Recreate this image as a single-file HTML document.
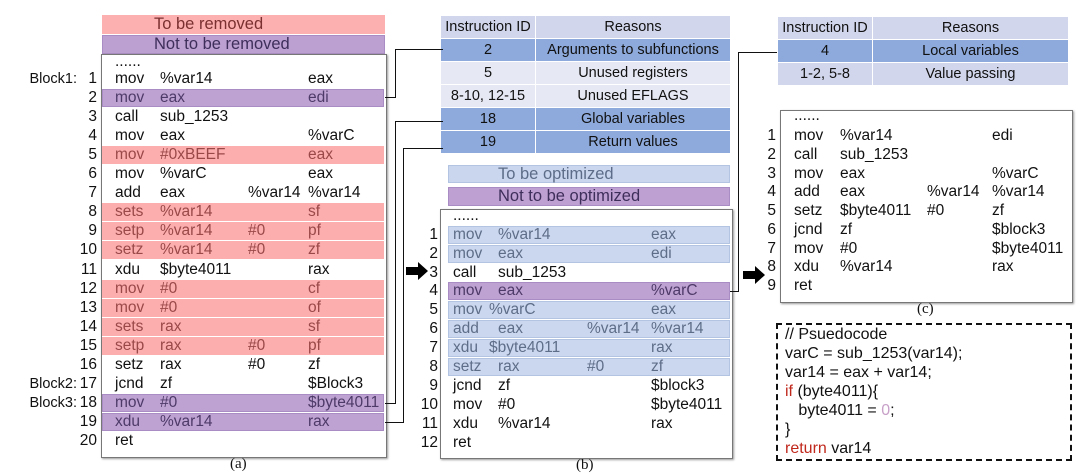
<!DOCTYPE html>
<html><head><meta charset="utf-8"><style>
body{margin:0;width:1090px;height:476px;background:#fff;position:relative;overflow:hidden;font-family:"Liberation Sans",sans-serif;font-size:15.5px;color:#111}
.a{position:absolute}
.r{position:absolute;height:18px;line-height:18px;white-space:nowrap}
.r span{position:absolute;top:0}
.pa{left:102px;width:282px}.pb{left:448px;width:282px}.pc{left:781px;width:290px}
.pa .n{right:287px}.pb .n{right:292px}.pc .n{right:295px}
.n{color:#111!important;text-align:right}
.pa .c1{left:13px}.pa .c2{left:58px}.pa .c3{left:146px}.pa .c4{left:206px}
.pb .c1{left:5px}.pb .c2{left:50px}.pb .c3{left:139px}.pb .c4{left:203px}
.pc .c1{left:13px}.pc .c2{left:59px}.pc .c3{left:146px}.pc .c4{left:211px}
.pk{background:#fcaeae;color:#9a4848}
.pu{background:#bda2d2;color:#4e3a68;box-shadow:inset 0 0 0 1px #a98cc4}
.bl{background:#cbd7ee;color:#5e6d88;box-shadow:inset 0 0 0 1px #b3c4e2}
.box{position:absolute;border:1px solid #777;background:#fff;box-shadow:1px 1px 2px #999}
.ln{position:absolute;background:#111}
table{position:absolute;border-collapse:collapse;font-size:14.5px}
td{text-align:center;padding:0;border:1px solid #fff;height:22px}
.h{background:#d2d6ec}.d{background:#8eaadc}.l{background:#e6e8f3}
.lbl{font-family:"Liberation Serif",serif;font-size:15px;position:absolute}
.lg{font-size:16.5px}
.bk{position:absolute;left:0;width:77px;text-align:right;font-size:14.5px;line-height:18px}
</style></head><body>
<!-- panel a -->
<div class="a lg" style="left:102px;top:15px;width:283px;height:19px;background:#fdb0b0;color:#7a3030;line-height:19px;text-indent:52px">To be removed</div>
<div class="a lg" style="left:102px;top:35px;width:283px;height:19px;background:#bca0d2;color:#3e2e5a;line-height:19px;text-indent:52px;box-shadow:inset 0 0 0 1px #a98cc4">Not to be removed</div>
<div class="box" style="left:101px;top:54px;width:284px;height:402px"></div>
<div class="a" style="left:115px;top:53px">......</div>
<div class="bk" style="top:70px">Block1:</div>
<div class="bk" style="top:375px">Block2:</div>
<div class="bk" style="top:394px">Block3:</div>
<div class="r pa" style="top:70px"><span class="n">1</span><span class="c1">mov</span><span class="c2">%var14</span><span class="c4">eax</span></div>
<div class="r pa pu" style="top:89px"><span class="n">2</span><span class="c1">mov</span><span class="c2">eax</span><span class="c4">edi</span></div>
<div class="r pa" style="top:108px"><span class="n">3</span><span class="c1">call</span><span class="c2">sub_1253</span></div>
<div class="r pa" style="top:127px"><span class="n">4</span><span class="c1">mov</span><span class="c2">eax</span><span class="c4">%varC</span></div>
<div class="r pa pk" style="top:146px"><span class="n">5</span><span class="c1">mov</span><span class="c2">#0xBEEF</span><span class="c4">eax</span></div>
<div class="r pa" style="top:165px"><span class="n">6</span><span class="c1">mov</span><span class="c2">%varC</span><span class="c4">eax</span></div>
<div class="r pa" style="top:184px"><span class="n">7</span><span class="c1">add</span><span class="c2">eax</span><span class="c3">%var14</span><span class="c4">%var14</span></div>
<div class="r pa pk" style="top:203px"><span class="n">8</span><span class="c1">sets</span><span class="c2">%var14</span><span class="c4">sf</span></div>
<div class="r pa pk" style="top:222px"><span class="n">9</span><span class="c1">setp</span><span class="c2">%var14</span><span class="c3">#0</span><span class="c4">pf</span></div>
<div class="r pa pk" style="top:241px"><span class="n">10</span><span class="c1">setz</span><span class="c2">%var14</span><span class="c3">#0</span><span class="c4">zf</span></div>
<div class="r pa" style="top:261px"><span class="n">11</span><span class="c1">xdu</span><span class="c2">$byte4011</span><span class="c4">rax</span></div>
<div class="r pa pk" style="top:280px"><span class="n">12</span><span class="c1">mov</span><span class="c2">#0</span><span class="c4">cf</span></div>
<div class="r pa pk" style="top:299px"><span class="n">13</span><span class="c1">mov</span><span class="c2">#0</span><span class="c4">of</span></div>
<div class="r pa pk" style="top:318px"><span class="n">14</span><span class="c1">sets</span><span class="c2">rax</span><span class="c4">sf</span></div>
<div class="r pa pk" style="top:337px"><span class="n">15</span><span class="c1">setp</span><span class="c2">rax</span><span class="c3">#0</span><span class="c4">pf</span></div>
<div class="r pa" style="top:356px"><span class="n">16</span><span class="c1">setz</span><span class="c2">rax</span><span class="c3">#0</span><span class="c4">zf</span></div>
<div class="r pa" style="top:375px"><span class="n">17</span><span class="c1">jcnd</span><span class="c2">zf</span><span class="c4">$Block3</span></div>
<div class="r pa pu" style="top:394px"><span class="n">18</span><span class="c1">mov</span><span class="c2">#0</span><span class="c4">$byte4011</span></div>
<div class="r pa pu" style="top:413px"><span class="n">19</span><span class="c1">xdu</span><span class="c2">%var14</span><span class="c4">rax</span></div>
<div class="r pa" style="top:432px"><span class="n">20</span><span class="c1">ret</span></div>
<div class="lbl" style="left:230px;top:456px">(a)</div>

<!-- middle table -->
<table style="left:440px;top:15px;width:291px">
<tr class="h"><td style="width:94px">Instruction ID</td><td>Reasons</td></tr>
<tr class="d"><td>2</td><td>Arguments to subfunctions</td></tr>
<tr class="l"><td>5</td><td>Unused registers</td></tr>
<tr class="l"><td>8-10, 12-15</td><td>Unused EFLAGS</td></tr>
<tr class="d"><td>18</td><td>Global variables</td></tr>
<tr class="d"><td>19</td><td>Return values</td></tr>
</table>
<!-- connectors a -> table -->
<div class="ln" style="left:385px;top:97px;width:11px;height:1px"></div>
<div class="ln" style="left:395px;top:49px;width:1px;height:49px"></div>
<div class="ln" style="left:395px;top:49px;width:48px;height:1px"></div>
<div class="ln" style="left:385px;top:403px;width:11px;height:1px"></div>
<div class="ln" style="left:395px;top:121px;width:1px;height:283px"></div>
<div class="ln" style="left:395px;top:121px;width:48px;height:1px"></div>
<div class="ln" style="left:385px;top:422px;width:19px;height:1px"></div>
<div class="ln" style="left:403px;top:148px;width:1px;height:275px"></div>
<div class="ln" style="left:403px;top:148px;width:40px;height:1px"></div>

<!-- panel b -->
<div class="a lg" style="left:448px;top:165px;width:282px;height:18px;background:#c9d6ee;color:#5d6c88;line-height:18px;text-indent:50px;box-shadow:inset 0 0 0 1px #b3c4e2">To be optimized</div>
<div class="a lg" style="left:448px;top:187px;width:282px;height:19px;background:#bfa0d3;color:#3e2e5a;line-height:19px;text-indent:50px;box-shadow:inset 0 0 0 1px #a98cc4">Not to be optimized</div>
<div class="box" style="left:440px;top:209px;width:291px;height:248px"></div>
<div class="a" style="left:453px;top:207px">......</div>
<div class="r pb bl" style="top:226px"><span class="n">1</span><span class="c1">mov</span><span class="c2">%var14</span><span class="c4">eax</span></div>
<div class="r pb bl" style="top:245px"><span class="n">2</span><span class="c1">mov</span><span class="c2">eax</span><span class="c4">edi</span></div>
<div class="r pb" style="top:264px"><span class="n">3</span><span class="c1">call</span><span class="c2">sub_1253</span></div>
<div class="r pb pu" style="top:282px"><span class="n">4</span><span class="c1">mov</span><span class="c2">eax</span><span class="c4">%varC</span></div>
<div class="r pb bl" style="top:301px"><span class="n">5</span><span class="c1">mov</span><span class="c2" style="left:41px">%varC</span><span class="c4">eax</span></div>
<div class="r pb bl" style="top:320px"><span class="n">6</span><span class="c1">add</span><span class="c2">eax</span><span class="c3">%var14</span><span class="c4">%var14</span></div>
<div class="r pb bl" style="top:339px"><span class="n">7</span><span class="c1">xdu</span><span class="c2" style="left:41px">$byte4011</span><span class="c4">rax</span></div>
<div class="r pb bl" style="top:358px"><span class="n">8</span><span class="c1">setz</span><span class="c2">rax</span><span class="c3">#0</span><span class="c4">zf</span></div>
<div class="r pb" style="top:377px"><span class="n">9</span><span class="c1">jcnd</span><span class="c2">zf</span><span class="c4">$block3</span></div>
<div class="r pb" style="top:396px"><span class="n">10</span><span class="c1">mov</span><span class="c2">#0</span><span class="c4">$byte4011</span></div>
<div class="r pb" style="top:415px"><span class="n">11</span><span class="c1">xdu</span><span class="c2">%var14</span><span class="c4">rax</span></div>
<div class="r pb" style="top:434px"><span class="n">12</span><span class="c1">ret</span></div>
<div class="lbl" style="left:576px;top:457px">(b)</div>
<svg class="a" style="left:406px;top:262px" width="24" height="18"><polygon points="0,5 12,5 12,0 22,9 12,18 12,13 0,13" fill="#000"/></svg>

<!-- connector b -> c -->
<div class="ln" style="left:730px;top:291px;width:9px;height:1px"></div>
<div class="ln" style="left:738px;top:52px;width:1px;height:240px"></div>
<div class="ln" style="left:738px;top:52px;width:46px;height:1px"></div>

<!-- table c -->
<table style="left:777px;top:16px;width:292px">
<tr class="h"><td style="width:94px">Instruction ID</td><td>Reasons</td></tr>
<tr class="d"><td>4</td><td>Local variables</td></tr>
<tr class="l" style="background:#d2d6ec"><td>1-2, 5-8</td><td>Value passing</td></tr>
</table>

<!-- panel c -->
<div class="box" style="left:780px;top:110px;width:291px;height:191px"></div>
<div class="a" style="left:794px;top:107px">......</div>
<div class="r pc" style="top:127px"><span class="n">1</span><span class="c1">mov</span><span class="c2">%var14</span><span class="c4">edi</span></div>
<div class="r pc" style="top:146px"><span class="n">2</span><span class="c1">call</span><span class="c2">sub_1253</span></div>
<div class="r pc" style="top:165px"><span class="n">3</span><span class="c1">mov</span><span class="c2">eax</span><span class="c4">%varC</span></div>
<div class="r pc" style="top:183px"><span class="n">4</span><span class="c1">add</span><span class="c2">eax</span><span class="c3">%var14</span><span class="c4">%var14</span></div>
<div class="r pc" style="top:202px"><span class="n">5</span><span class="c1">setz</span><span class="c2">$byte4011</span><span class="c3">#0</span><span class="c4">zf</span></div>
<div class="r pc" style="top:221px"><span class="n">6</span><span class="c1">jcnd</span><span class="c2">zf</span><span class="c4">$block3</span></div>
<div class="r pc" style="top:240px"><span class="n">7</span><span class="c1">mov</span><span class="c2">#0</span><span class="c4">$byte4011</span></div>
<div class="r pc" style="top:258px"><span class="n">8</span><span class="c1">xdu</span><span class="c2">%var14</span><span class="c4">rax</span></div>
<div class="r pc" style="top:277px"><span class="n">9</span><span class="c1">ret</span></div>
<svg class="a" style="left:743px;top:266px" width="24" height="18"><polygon points="0,5 12,5 12,0 22,9 12,18 12,13 0,13" fill="#000"/></svg>
<div class="lbl" style="left:917px;top:301px">(c)</div>

<!-- pseudocode -->
<div class="a" style="left:776px;top:323px;width:292px;height:134px;border:2px dashed #111"></div>
<div class="a" style="left:785px;top:325px;line-height:19px;font-size:16px">// Psuedocode<br>varC = sub_1253(var14);<br>var14 = eax + var14;<br><span style="color:#c0281c">if</span> (byte4011){<br>&nbsp;&nbsp;&nbsp;byte4011 = <span style="color:#c8a0c8">0</span>;<br>}<br><span style="color:#c0281c">return</span> var14</div>
</body></html>
